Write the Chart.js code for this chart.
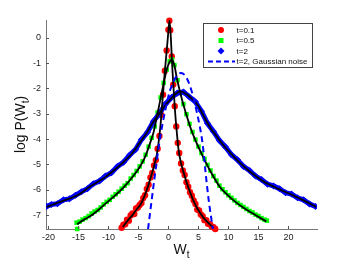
<!DOCTYPE html>
<html lang="en">
<head>
<meta charset="UTF-8">
<title>log P(W_t) vs W_t</title>
<script src="https://cdn.jsdelivr.net/npm/chart.js"></script>
<style>
  body { margin: 0; background: #fff; }
  #wrap { width: 350px; height: 263px; }
</style>
</head>
<body>
<div id="wrap"><canvas id="pdf" width="350" height="263"></canvas></div>
<script>
const xTicks = [-20, -15, -10, -5, 0, 5, 10, 15, 20];
const yTicks = [-7, -6, -5, -4, -3, -2, -1, 0];
const seriesNames = ['t=0.1', 't=0.5', 't=2', 't=2, Gaussian noise'];

// measured points (markers)
const redX = [-7.8, -7.5, -7.2, -6.9, -6.6, -6.3, -6.0, -5.7, -5.4, -5.1, -4.8, -4.5, -4.2, -3.9, -3.6, -3.3, -3.0, -2.7, -2.4, -2.1, -1.8, -1.5, -1.2, -0.9, -0.6, -0.3, 0.0, 0.15, 0.3, 0.55, 0.8, 1.05, 1.3, 1.55, 1.8, 2.1, 2.4, 2.7, 3.0, 3.3, 3.6, 3.9, 4.2, 4.5, 4.8, 5.1, 5.4, 5.7, 6.0, 6.3, 6.6, 6.9, 7.2, 7.5, 7.8];
const redY = [-7.50, -7.38, -7.36, -7.18, -7.22, -7.02, -6.94, -6.96, -6.74, -6.70, -6.60, -6.52, -6.33, -6.22, -5.97, -5.80, -5.52, -5.34, -5.04, -4.83, -4.38, -3.88, -3.05, -2.25, -1.30, -0.50, 0.32, 0.67, 0.30, -0.74, -1.85, -2.70, -3.50, -4.15, -4.55, -4.96, -5.24, -5.42, -5.70, -5.88, -6.10, -6.24, -6.42, -6.56, -6.78, -6.82, -6.98, -7.04, -7.20, -7.20, -7.34, -7.35, -7.45, -7.48, -7.55];

const greenX = [-15.2, -15.3, -14.8, -14.3, -13.8, -13.3, -12.8, -12.3, -11.8, -11.3, -10.8, -10.3, -9.8, -9.3, -8.8, -8.3, -7.8, -7.3, -6.8, -6.3, -5.8, -5.3, -4.8, -4.3, -3.8, -3.3, -2.8, -2.3, -1.8, -1.3, -0.8, -0.3, 0.2, 0.6, 1.0, 1.5, 2.0, 2.5, 3.0, 3.5, 4.0, 4.5, 5.0, 5.5, 6.0, 6.5, 7.0, 7.5, 8.0, 8.5, 9.0, 9.5, 10.0, 10.5, 11.0, 11.5, 12.0, 12.5, 13.0, 13.5, 14.0, 14.5, 15.0, 15.5, 16.0, 16.4];
const greenY = [-7.55, -7.30, -7.26, -7.18, -7.12, -7.04, -6.94, -6.86, -6.80, -6.70, -6.58, -6.48, -6.40, -6.28, -6.18, -6.08, -5.96, -5.84, -5.74, -5.56, -5.42, -5.26, -5.08, -4.88, -4.62, -4.30, -3.95, -3.50, -2.95, -2.36, -1.78, -1.26, -0.93, -0.86, -1.08, -1.68, -2.18, -2.62, -3.02, -3.40, -3.72, -4.02, -4.30, -4.55, -4.78, -5.02, -5.24, -5.46, -5.64, -5.84, -5.98, -6.10, -6.22, -6.32, -6.42, -6.52, -6.60, -6.68, -6.76, -6.84, -6.90, -6.98, -7.04, -7.12, -7.18, -7.22];

const blueX = [-20.3, -19.5, -18.5, -17.5, -16.5, -15.5, -14.5, -13.5, -12.5, -11.5, -10.5, -9.5, -8.5, -7.5, -6.5, -5.5, -4.5, -3.5, -2.5, -1.5, -0.5, 0.5, 1.5, 2.5, 3.5, 4.5, 5.5, 6.5, 7.5, 8.5, 9.5, 10.5, 11.5, 12.5, 13.5, 14.5, 15.5, 16.5, 17.5, 18.5, 19.5, 20.5, 21.5, 22.5, 23.5, 24.5];
const blueY = [-6.66, -6.58, -6.55, -6.40, -6.36, -6.22, -6.08, -5.96, -5.76, -5.66, -5.46, -5.33, -5.08, -4.92, -4.64, -4.42, -4.02, -3.73, -3.30, -2.99, -2.62, -2.36, -2.18, -2.14, -2.34, -2.53, -2.90, -3.38, -3.70, -4.06, -4.31, -4.62, -4.82, -5.08, -5.24, -5.46, -5.60, -5.78, -5.85, -5.96, -6.12, -6.17, -6.32, -6.40, -6.56, -6.66];

// fitted curves (black)
const redFitX = [-7.6, -6.8, -6.0, -5.27, -4.7, -4.17, -3.6, -3.05, -2.5, -1.93, -1.6, -1.3, -1.0, -0.7, -0.4, -0.1, 0.17, 0.4, 0.6, 0.83, 1.1, 1.4, 1.67, 2.0, 2.5, 3.33, 4.45, 5.1, 5.83, 6.6, 7.5];
const redFitY = [-7.47, -7.22, -7.0, -6.77, -6.6, -6.35, -6.0, -5.59, -5.15, -4.6, -4.05, -3.4, -2.5, -1.6, -0.8, 0.0, 0.67, 0.0, -1.0, -1.92, -2.9, -3.75, -4.4, -4.85, -5.3, -5.92, -6.58, -6.85, -7.1, -7.3, -7.5];

const greenFitX = [-15.2, -14, -13, -11.5, -10.3, -9, -7.5, -6, -4.7, -3.8, -3.05, -2.5, -2.0, -1.4, -0.8, -0.3, 0.2, 0.57, 1.0, 1.4, 2.0, 2.5, 3.0, 3.75, 4.5, 5.57, 6.95, 8.6, 9.73, 11, 12.5, 14, 15.2, 16.3];
const greenFitY = [-7.36, -7.17, -7.04, -6.76, -6.51, -6.25, -5.92, -5.5, -5.07, -4.65, -4.15, -3.75, -3.2, -2.5, -1.8, -1.28, -0.95, -0.87, -1.1, -1.6, -2.2, -2.65, -3.05, -3.6, -4.05, -4.6, -5.25, -5.9, -6.18, -6.45, -6.71, -6.93, -7.1, -7.25];

const blueFitX = [-20.3, -18.5, -16.5, -15, -13, -11, -10.3, -9, -7.5, -6, -4.7, -3.6, -2.8, -1.4, -0.3, 0.5, 1.2, 2.0, 2.8, 3.5, 4.3, 5.0, 6.0, 7.0, 8.0, 9.0, 10, 11, 12, 13, 14, 15, 16, 17, 18, 19, 20, 21, 22, 23, 24, 24.6];
const blueFitY = [-6.68, -6.52, -6.35, -6.2, -5.86, -5.58, -5.46, -5.22, -4.91, -4.55, -4.12, -3.75, -3.42, -2.95, -2.6, -2.38, -2.22, -2.12, -2.2, -2.32, -2.5, -2.7, -3.15, -3.56, -3.88, -4.2, -4.47, -4.72, -4.96, -5.17, -5.36, -5.54, -5.7, -5.82, -5.93, -6.04, -6.14, -6.25, -6.36, -6.48, -6.6, -6.68];

// t=2 with Gaussian noise (dashed)
const gaussX = [-3.4, -2.8, -2.2, -1.6, -1.0, -0.4, 0.2, 0.8, 1.4, 2.1, 2.8, 3.4, 4.0, 4.6, 5.2, 5.7, 6.2, 6.7, 7.4];
const gaussY = [-7.55, -6.42, -5.32, -4.28, -3.42, -2.72, -2.13, -1.76, -1.5, -1.39, -1.5, -1.78, -2.22, -2.8, -3.48, -4.2, -5.35, -6.4, -7.55];

const RED = '#ff0000', GREEN = '#00ff00', BLUE = '#0000ff';
const FONT = "'Liberation Sans', Arial, sans-serif";

function pts(xs, ys) {
  return xs.map((x, i) => ({ x: x, y: ys[i] }));
}

function fitLine(xs, ys) {
  return {
    data: pts(xs, ys), showLine: true, borderColor: '#000', borderWidth: 1.8,
    pointRadius: 0, cubicInterpolationMode: 'monotone', order: 1
  };
}

// draws inward ticks, axis titles with subscripts and the legend box
const matlabLook = {
  id: 'matlabLook',
  afterDraw(chart) {
    const ctx = chart.ctx;
    const a = chart.chartArea;
    const xs = chart.scales.x, ys = chart.scales.y;
    ctx.save();
    ctx.strokeStyle = '#555';
    ctx.lineWidth = 1;
    ctx.beginPath();
    yTicks.forEach(v => {
      const py = Math.round(ys.getPixelForValue(v)) + 0.5;
      ctx.moveTo(a.left, py); ctx.lineTo(a.left + 3, py);
    });
    xTicks.forEach(v => {
      const px = Math.round(xs.getPixelForValue(v)) + 0.5;
      ctx.moveTo(px, a.bottom); ctx.lineTo(px, a.bottom - 3);
    });
    ctx.stroke();

    // x title: W_t
    ctx.fillStyle = '#111';
    ctx.textBaseline = 'alphabetic';
    ctx.font = '14px ' + FONT;
    const cx = (a.left + a.right) / 2;
    const wW = ctx.measureText('W').width;
    ctx.font = '10px ' + FONT;
    const tW = ctx.measureText('t').width;
    let x0 = cx - (wW + tW) / 2;
    ctx.font = '14px ' + FONT;
    ctx.fillText('W', x0, 254);
    ctx.font = '10px ' + FONT;
    ctx.fillText('t', x0 + wW, 258);

    // y title: log P(W_t)
    ctx.save();
    ctx.translate(25, (a.top + a.bottom) / 2);
    ctx.rotate(-Math.PI / 2);
    ctx.font = '14px ' + FONT;
    const p1 = 'log P(W', p2 = ')';
    const w1 = ctx.measureText(p1).width, w2 = ctx.measureText(p2).width;
    ctx.font = '10px ' + FONT;
    const ws = ctx.measureText('t').width;
    let s = -(w1 + ws + w2) / 2;
    ctx.font = '14px ' + FONT;
    ctx.fillText(p1, s, 0);
    ctx.font = '10px ' + FONT;
    ctx.fillText('t', s + w1, 4);
    ctx.font = '14px ' + FONT;
    ctx.fillText(p2, s + w1 + ws, 0);
    ctx.restore();

    // legend
    const bx = 203.5, by = 23.5, bw = 109, bh = 44;
    ctx.fillStyle = '#fff';
    ctx.fillRect(bx, by, bw, bh);
    ctx.strokeStyle = '#444';
    ctx.strokeRect(bx, by, bw, bh);
    const rows = [30, 40.5, 51, 61.5];
    const mx = 221;
    ctx.fillStyle = RED;
    ctx.beginPath(); ctx.arc(mx, rows[0], 3, 0, Math.PI * 2); ctx.fill();
    ctx.fillStyle = GREEN;
    ctx.fillRect(mx - 2.5, rows[1] - 2.5, 5, 5);
    ctx.fillStyle = BLUE;
    ctx.beginPath();
    ctx.moveTo(mx, rows[2] - 3.5); ctx.lineTo(mx + 3.5, rows[2]);
    ctx.lineTo(mx, rows[2] + 3.5); ctx.lineTo(mx - 3.5, rows[2]);
    ctx.closePath(); ctx.fill();
    ctx.strokeStyle = BLUE;
    ctx.lineWidth = 2;
    ctx.setLineDash([5, 3]);
    ctx.beginPath(); ctx.moveTo(208, rows[3]); ctx.lineTo(235, rows[3]); ctx.stroke();
    ctx.setLineDash([]);
    ctx.fillStyle = '#111';
    ctx.font = '8px ' + FONT;
    ctx.textBaseline = 'middle';
    seriesNames.forEach((n, i) => ctx.fillText(n, 236.5, rows[i] + 0.5));
    ctx.restore();
  }
};

Chart.defaults.font.family = FONT;
Chart.defaults.color = '#222';

new Chart(document.getElementById('pdf'), {
  type: 'scatter',
  data: {
    datasets: [
      {
        label: seriesNames[3], data: pts(gaussX, gaussY), showLine: true,
        borderColor: BLUE, borderWidth: 2, borderDash: [6, 4], pointRadius: 0,
        cubicInterpolationMode: 'monotone', order: 0
      },
      fitLine(redFitX, redFitY),
      fitLine(greenFitX, greenFitY),
      fitLine(blueFitX, blueFitY),
      {
        label: seriesNames[2], data: pts(blueX, blueY), showLine: true,
        borderColor: BLUE, borderWidth: 5, backgroundColor: BLUE,
        pointStyle: 'rectRot', pointRadius: 3.5, pointBorderWidth: 0, order: 2
      },
      {
        label: seriesNames[1], data: pts(greenX, greenY),
        backgroundColor: GREEN, pointStyle: 'rect', pointRadius: 3.2,
        pointBorderWidth: 0, clip: false, order: 3
      },
      {
        label: seriesNames[0], data: pts(redX, redY),
        backgroundColor: RED, pointStyle: 'circle', pointRadius: 3.2,
        pointBorderWidth: 0, clip: false, order: 4
      }
    ]
  },
  options: {
    responsive: false,
    animation: false,
    layout: { padding: { top: 20, right: 33, left: 0, bottom: 0 } },
    plugins: { legend: { display: false }, tooltip: { enabled: false } },
    scales: {
      x: {
        type: 'linear', min: -20.4, max: 24.75,
        grid: { display: false, drawTicks: false },
        border: { display: true, color: '#777', width: 1 },
        afterBuildTicks: s => { s.ticks = xTicks.map(v => ({ value: v })); },
        afterFit: s => { s.height = 34; },
        ticks: { padding: 3, font: { size: 9 }, maxRotation: 0, callback: v => String(v) }
      },
      y: {
        type: 'linear', min: -7.55, max: 0.7,
        grid: { display: false, drawTicks: false },
        border: { display: true, color: '#777', width: 1 },
        afterBuildTicks: s => { s.ticks = yTicks.map(v => ({ value: v })); },
        afterFit: s => { s.width = 46; },
        ticks: { padding: 5, font: { size: 9 }, callback: v => String(v) }
      }
    }
  },
  plugins: [matlabLook]
});
</script>
</body>
</html>
